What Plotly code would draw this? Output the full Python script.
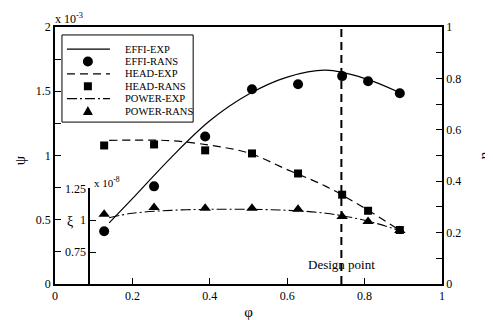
import plotly.graph_objects as go

# ---------------- data ----------------
phi_rans = [0.127, 0.256, 0.388, 0.509, 0.628, 0.742, 0.809, 0.891]
effi_rans = [0.205, 0.38, 0.574, 0.758, 0.777, 0.809, 0.789, 0.742]      # eta
head_rans = [1.078, 1.086, 1.04, 1.016, 0.86, 0.695, 0.57, 0.42]        # psi x1e-3
power_rans = [1.047, 1.10, 1.094, 1.094, 1.086, 1.03, 0.99, 0.92]       # xi x1e-8

phi_exp = [0.14, 0.2, 0.3, 0.4, 0.5, 0.6, 0.7, 0.8, 0.89]
effi_exp = [0.238, 0.332, 0.492, 0.635, 0.738, 0.805, 0.832, 0.80, 0.745]
head_exp = [1.117, 1.12, 1.115, 1.08, 1.02, 0.89, 0.76, 0.59, 0.42]
power_exp = [1.02, 1.055, 1.078, 1.086, 1.086, 1.078, 1.055, 1.0, 0.92]

design_phi = 0.74
design_label = "Design point"

series_names = ["EFFI-EXP", "EFFI-RANS", "HEAD-EXP", "HEAD-RANS", "POWER-EXP", "POWER-RANS"]

x_ticks = [0, 0.2, 0.4, 0.6, 0.8, 1]
x_ticktext = ["0", "0.2", "0.4", "0.6", "0.8", "1"]
psi_ticks = [0, 0.5, 1, 1.5, 2]
psi_ticktext = ["0", "0.5", "1", "1.5", "2"]
eta_ticks = [0, 0.2, 0.4, 0.6, 0.8, 1]
eta_ticktext = ["0", "0.2", "0.4", "0.6", "0.8", "1"]
xi_ticks = [0.75, 1, 1.25]
xi_ticktext = ["0.75", "1", "1.25"]

FONT = "Liberation Serif, Times New Roman, serif"
BLACK = "black"

fig = go.Figure()

# EFFI (eta, right axis)
fig.add_trace(go.Scatter(x=phi_exp, y=effi_exp, mode="lines", name=series_names[0],
                         line=dict(color=BLACK, width=1.2, shape="spline", smoothing=1),
                         yaxis="y2", showlegend=False))
fig.add_trace(go.Scatter(x=phi_rans, y=effi_rans, mode="markers", name=series_names[1],
                         marker=dict(symbol="circle", size=10, color=BLACK),
                         yaxis="y2", showlegend=False))
# HEAD (psi, left axis)
fig.add_trace(go.Scatter(x=phi_exp, y=head_exp, mode="lines", name=series_names[2],
                         line=dict(color=BLACK, width=1.2, dash="8px,5px", shape="spline", smoothing=1),
                         yaxis="y", showlegend=False))
fig.add_trace(go.Scatter(x=phi_rans, y=head_rans, mode="markers", name=series_names[3],
                         marker=dict(symbol="square", size=8, color=BLACK),
                         yaxis="y", showlegend=False))
# POWER (xi, inset axis)
fig.add_trace(go.Scatter(x=phi_exp, y=power_exp, mode="lines", name=series_names[4],
                         line=dict(color=BLACK, width=1.1, dash="10px,3px,2px,3px", shape="spline", smoothing=1),
                         yaxis="y3", showlegend=False))
fig.add_trace(go.Scatter(x=phi_rans, y=power_rans, mode="markers", name=series_names[5],
                         marker=dict(symbol="triangle-up", size=10, color=BLACK),
                         yaxis="y3", showlegend=False))

# design point line
fig.add_vline(x=design_phi, line=dict(color=BLACK, width=2, dash="8px,5px"))
fig.add_annotation(x=design_phi, xref="x", y=0.074, yref="paper", text=design_label,
                   showarrow=False, font=dict(family=FONT, size=13, color=BLACK),
                   xanchor="center", yanchor="middle")

# ---------------- manual legend (layout elements) ----------------
lg_x0, lg_x1, lg_y0, lg_y1 = 0.018, 0.357, 0.630, 0.969
fig.add_shape(type="rect", xref="paper", yref="paper", x0=lg_x0, x1=lg_x1, y0=lg_y0, y1=lg_y1,
              line=dict(color=BLACK, width=1), fillcolor="white", layer="above")
row_top, row_step = 0.914, 0.0482
samp_x0, samp_x1, samp_xc, text_x = 0.031, 0.142, 0.085, 0.176
styles = [("line", "solid"), ("circle", None), ("line", "8px,5px"),
          ("square", None), ("line", "10px,3px,2px,3px"), ("triangle", None)]
for i, (name, (kind, dash)) in enumerate(zip(series_names, styles)):
    yc = row_top - i * row_step
    if kind == "line":
        fig.add_shape(type="line", xref="paper", yref="paper", x0=samp_x0, x1=samp_x1, y0=yc, y1=yc,
                      line=dict(color=BLACK, width=1.2, dash=dash), layer="above")
    elif kind == "circle":
        fig.add_shape(type="circle", xref="paper", yref="paper", xsizemode="pixel", ysizemode="pixel",
                      xanchor=samp_xc, yanchor=yc, x0=-5, x1=5, y0=-5, y1=5,
                      fillcolor=BLACK, line=dict(color=BLACK, width=0), layer="above")
    elif kind == "square":
        fig.add_shape(type="rect", xref="paper", yref="paper", xsizemode="pixel", ysizemode="pixel",
                      xanchor=samp_xc, yanchor=yc, x0=-4, x1=4, y0=-4, y1=4,
                      fillcolor=BLACK, line=dict(color=BLACK, width=0), layer="above")
    else:
        fig.add_shape(type="path", xref="paper", yref="paper", xsizemode="pixel", ysizemode="pixel",
                      xanchor=samp_xc, yanchor=yc, path="M -5,-4 L 5,-4 L 0,5 Z",
                      fillcolor=BLACK, line=dict(color=BLACK, width=0), layer="above")
    fig.add_annotation(x=text_x, y=yc, xref="paper", yref="paper", text=name, showarrow=False,
                       xanchor="left", yanchor="middle", font=dict(family=FONT, size=10.5, color=BLACK))

# exponent labels and axis titles placed as text
fig.add_annotation(x=-0.005, y=1.035, xref="paper", yref="paper", text="x 10<sup>-3</sup>",
                   showarrow=False, xanchor="left", yanchor="middle",
                   font=dict(family=FONT, size=12, color=BLACK))
fig.add_annotation(x=0.096, y=0.397, xref="paper", yref="paper", text="x 10<sup>-8</sup>",
                   showarrow=False, xanchor="left", yanchor="middle",
                   font=dict(family=FONT, size=11, color=BLACK))
fig.add_annotation(x=0.039, y=0.245, xref="paper", yref="paper", text="ξ",
                   showarrow=False, xanchor="center", yanchor="middle",
                   font=dict(family=FONT, size=14, color=BLACK))
fig.add_annotation(x=-0.09, y=0.482, xref="paper", yref="paper", text="ψ", textangle=-90,
                   showarrow=False, xanchor="center", yanchor="middle",
                   font=dict(family=FONT, size=15, color=BLACK))
fig.add_annotation(x=1.106, y=0.50, xref="paper", yref="paper", text="η", textangle=-90,
                   showarrow=False, xanchor="center", yanchor="middle",
                   font=dict(family=FONT, size=15, color=BLACK))

axis_common = dict(showgrid=False, zeroline=False, showline=True, linecolor=BLACK, linewidth=1.5,
                   ticks="inside", tickcolor=BLACK, tickwidth=1.2, automargin=False,
                   tickfont=dict(family=FONT, size=12, color=BLACK))

# the page body has an 8px margin, so the figure is sized to fit the 493x320 window
fig.update_layout(
    width=485, height=312,
    margin=dict(l=47, r=51, t=19, b=36, autoexpand=False),
    paper_bgcolor="white", plot_bgcolor="rgba(0,0,0,0)",
    font=dict(family=FONT, color=BLACK),
    showlegend=False,
    xaxis=dict(**axis_common, range=[0, 1], tickvals=x_ticks, ticktext=x_ticktext, ticklen=6,
               mirror=True,
               title=dict(text="φ", font=dict(family=FONT, size=15, color=BLACK), standoff=4)),
    yaxis=dict(**axis_common, range=[0, 2], tickvals=psi_ticks, ticktext=psi_ticktext, ticklen=6,
               minor=dict(dtick=0.25, ticks="inside", ticklen=6, tickcolor=BLACK)),
    yaxis2=dict(**axis_common, range=[0, 1], tickvals=eta_ticks, ticktext=eta_ticktext, ticklen=6,
                minor=dict(dtick=0.1, ticks="inside", ticklen=6, tickcolor=BLACK),
                overlaying="y", side="right", anchor="x"),
    yaxis3=dict(**axis_common, range=[0.5, 1.25], tickvals=xi_ticks, ticktext=xi_ticktext, ticklen=6,
                domain=[0, 0.372], anchor="free", position=0.088, side="left"),
)

fig.write_html("out.html")
